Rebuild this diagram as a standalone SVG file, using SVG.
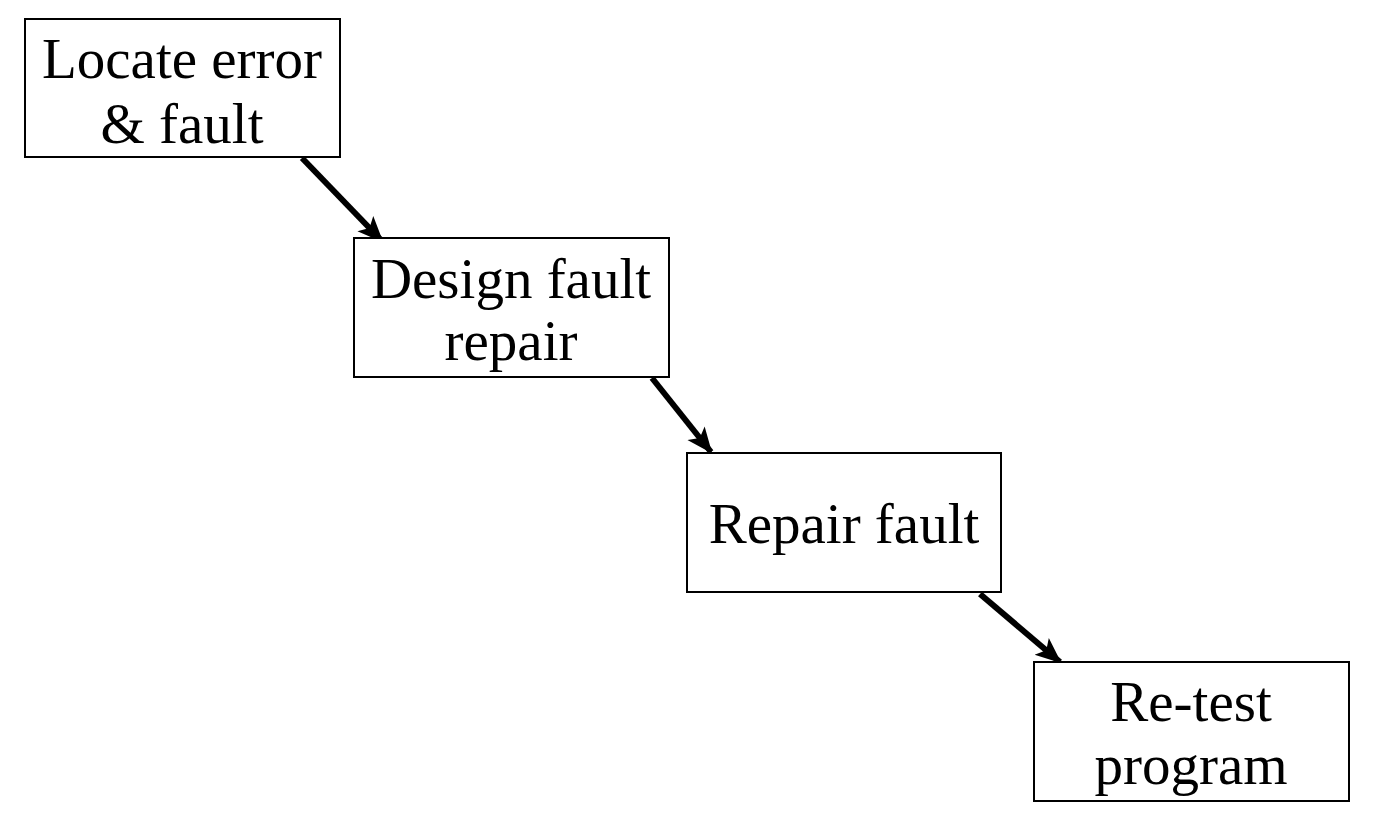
<svg xmlns="http://www.w3.org/2000/svg" width="1374" height="818" viewBox="0 0 1374 818">
<style>
.box{fill:#fff;stroke:#000;stroke-width:2}
.t{font-family:"Liberation Serif","Times New Roman",serif;font-size:57px;fill:#000;text-anchor:middle}
.c{stroke:#000;stroke-width:6;fill:none;marker-end:url(#ah)}
</style>
<defs>
<marker id="ah" markerUnits="userSpaceOnUse" markerWidth="26" markerHeight="24" refX="24" refY="12" orient="auto" viewBox="0 0 26 24">
<path d="M0,1 L26,12 L0,23 L6,12 Z" fill="#000"/>
</marker>
</defs>
<rect width="1374" height="818" fill="#fff"/>
<g id="connectors">
<line class="c" x1="302" y1="158" x2="382" y2="241"/>
<line class="c" x1="652" y1="378" x2="711" y2="452"/>
<line class="c" x1="980" y1="594" x2="1060" y2="662"/>
</g>
<g id="n1">
<rect class="box" x="25" y="19" width="315" height="138"/>
<text class="t" x="182" y="78">Locate error</text>
<text class="t" x="182" y="143">&amp; fault</text>
</g>
<g id="n2">
<rect class="box" x="354" y="238" width="315" height="139"/>
<text class="t" x="511" y="298">Design fault</text>
<text class="t" x="511" y="360">repair</text>
</g>
<g id="n3">
<rect class="box" x="687" y="453" width="314" height="139"/>
<text class="t" x="844" y="543">Repair fault</text>
</g>
<g id="n4">
<rect class="box" x="1034" y="662" width="315" height="139"/>
<text class="t" x="1191" y="721">Re-test</text>
<text class="t" x="1191" y="784">program</text>
</g>
</svg>
